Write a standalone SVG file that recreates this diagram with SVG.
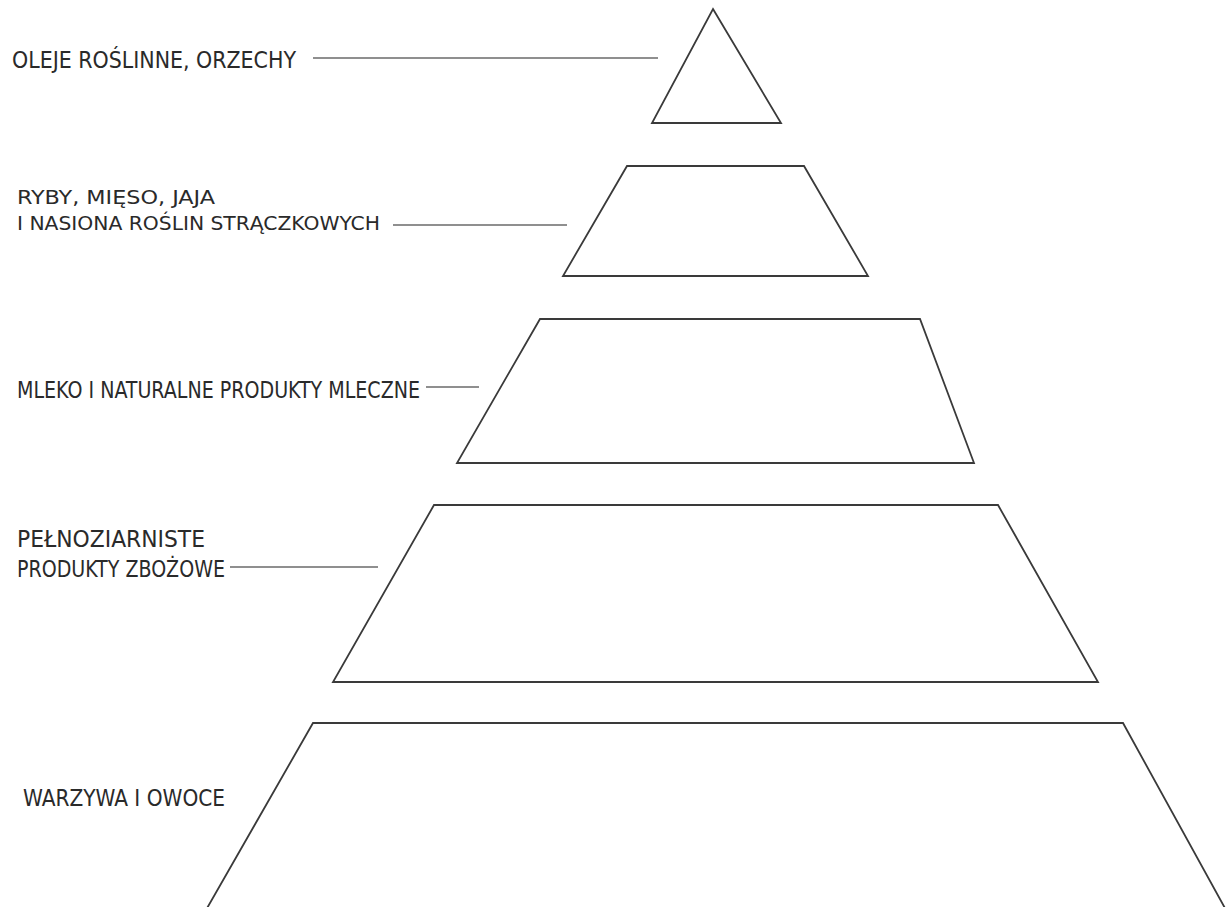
<svg xmlns="http://www.w3.org/2000/svg" width="1229" height="907" viewBox="0 0 1229 907">
<style>
.tier{fill:#fff;stroke:#3a3a3a;stroke-width:1.8;stroke-linejoin:miter}
.lbl{font-family:"DejaVu Sans Condensed","DejaVu Sans",sans-serif;font-size:23px;fill:#2a2a2a}
.sm{font-size:20px}
.con{stroke:#6a6a6a;stroke-width:1.6;fill:none}
</style>
<rect width="1229" height="907" fill="#fff"/>
<g id="tier1">
<polygon class="tier" points="713,9 781,123 652,123"/>
<text class="lbl" x="12" y="68" textLength="284" lengthAdjust="spacingAndGlyphs">OLEJE ROŚLINNE, ORZECHY</text>
</g>
<g id="tier2">
<polygon class="tier" points="627,166 804,166 868,276 563,276"/>
<text class="lbl sm" x="17" y="204" textLength="198" lengthAdjust="spacingAndGlyphs">RYBY, MIĘSO, JAJA</text>
<text class="lbl sm" x="17" y="230" textLength="363" lengthAdjust="spacingAndGlyphs">I NASIONA ROŚLIN STRĄCZKOWYCH</text>
</g>
<g id="tier3">
<polygon class="tier" points="540,319 920,319 974,463 457,463"/>
<text class="lbl" x="17" y="398" textLength="403" lengthAdjust="spacingAndGlyphs">MLEKO I NATURALNE PRODUKTY MLECZNE</text>
</g>
<g id="tier4">
<polygon class="tier" points="434,505 998,505 1098,682 333,682"/>
<text class="lbl" x="17" y="547" textLength="188" lengthAdjust="spacingAndGlyphs">PEŁNOZIARNISTE</text>
<text class="lbl" x="17" y="577" textLength="208" lengthAdjust="spacingAndGlyphs">PRODUKTY ZBOŻOWE</text>
</g>
<g id="tier5">
<polygon class="tier" points="313,723 1123,723 1226,910 206,910"/>
<text class="lbl" x="23" y="806" textLength="202" lengthAdjust="spacingAndGlyphs">WARZYWA I OWOCE</text>
</g>
<g id="connectors">
<line class="con" x1="313" y1="58" x2="658" y2="58"/>
<line class="con" x1="393" y1="225" x2="567" y2="225"/>
<line class="con" x1="426" y1="387" x2="479" y2="387"/>
<line class="con" x1="230" y1="567" x2="378" y2="567"/>
</g>
</svg>
